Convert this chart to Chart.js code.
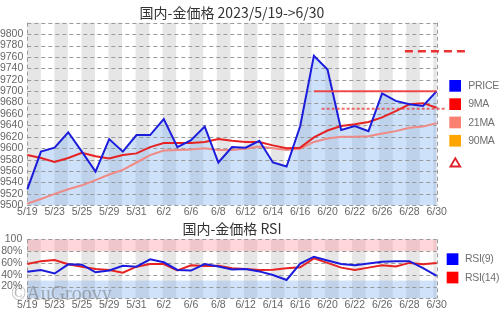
<!DOCTYPE html>
<html><head><meta charset="utf-8">
<script src="https://cdn.jsdelivr.net/npm/chart.js@4"></script>
<style>
html,body{margin:0;padding:0;background:#fff;width:500px;height:310px;overflow:hidden}
canvas{position:absolute;left:0}
#c1{top:0}
#c2{top:220px}
</style></head><body>
<canvas id="c1" width="500" height="220"></canvas>
<canvas id="c2" width="500" height="90"></canvas>
<script>
// ---------- data ----------
const dates = ['5/19','5/22','5/23','5/24','5/25','5/26','5/29','5/30','5/31','6/1','6/2','6/5','6/6','6/7','6/8','6/9','6/12','6/13','6/14','6/15','6/16','6/19','6/20','6/21','6/22','6/23','6/26','6/27','6/28','6/29','6/30'];
const tickLabels = ['5/19','5/23','5/25','5/29','5/31','6/2','6/6','6/8','6/12','6/14','6/16','6/20','6/22','6/26','6/28','6/30'];
const price = [9528,9594,9601,9628,9594,9559,9616,9594,9623,9623,9651,9602,9614,9638,9575,9602,9601,9613,9575,9568,9639,9762,9738,9632,9639,9630,9696,9683,9677,9674,9700];
const ma9   = [9588,9583,9576,9583,9592,9586,9582,9588,9591,9602,9609,9609,9609,9611,9616,9613,9611,9611,9605,9600,9601,9619,9631,9639,9642,9646,9654,9665,9677,9679,9671];
const ma21  = [9503,9511,9520,9528,9535,9544,9554,9562,9575,9588,9596,9597,9598,9600,9597,9597,9599,9603,9600,9597,9599,9611,9617,9620,9620,9621,9626,9630,9636,9638,9644];
const rsi9  = [45,48,42,57.6,57,44,47,55,53.6,66,61,48,47,58,54,49,49.7,45.6,39.5,31,59,70.5,64,58,56,59,62,63,63,51,38];
const rsi14 = [58,63,65,57.6,53.6,49.7,48,43.4,53.6,58,58,47.4,56,54.7,55,51,49.7,48,48.5,51,52.5,67.8,60,52,48,52,56,54,60,57.6,60];
const priceLegend = ['PRICE','9MA','21MA','90MA'];
const rsiLegend = ['RSI(9)','RSI(14)'];
const levelValues = [9700, 9669, 9770];
const levelFrom   = [21, 21.57, 27.67];
const levelTo     = [30, 30.71, 32.29];
const rsiZones = [[80,100],[0,30]];
const mainTitle = '国内-金価格 2023/5/19->6/30';
const rsiTitle = '国内-金価格 RSI';

// ---------- styling helpers ----------
const SMALL = "'Liberation Sans',Arial,sans-serif";
const TITLEF = "'Noto Sans CJK JP','Noto Sans',sans-serif";
const GRID = '#9a9a9a';

function drawBands(chart){
  const {ctx, chartArea:a} = chart;
  const period = a.width*2/30.25;
  ctx.save();
  ctx.fillStyle = '#e6e6e6';
  for (let x = a.left; x < a.right; x += period){
    ctx.fillRect(x, a.top, Math.min(period/2, a.right-x), a.bottom-a.top);
  }
  ctx.restore();
}
function drawGrid(chart){
  const {ctx, chartArea:a} = chart; const ys = chart.scales.y;
  ctx.save();
  ctx.strokeStyle = GRID; ctx.lineWidth = 1; ctx.setLineDash([4,3]);
  ys.ticks.forEach(t=>{
    const y = Math.round(ys.getPixelForValue(t.value)) + 0.5;
    ctx.beginPath(); ctx.moveTo(a.left, y); ctx.lineTo(a.right, y); ctx.stroke();
  });
  [a.left, a.right].forEach(x=>{
    const xx = Math.round(x) + 0.5;
    ctx.beginPath(); ctx.moveTo(xx, a.top); ctx.lineTo(xx, a.bottom); ctx.stroke();
  });
  ctx.restore();
}
function drawTitle(chart, text, y){
  const {ctx, chartArea:a} = chart;
  ctx.save();
  ctx.font = '14px ' + TITLEF;
  ctx.fillStyle = '#333';
  ctx.textAlign = 'center'; ctx.textBaseline = 'middle';
  ctx.fillText(text, (a.left+a.right)/2, y);
  ctx.restore();
}
function drawLegend(chart, names, colors, x0, y0, step, tx){
  const ctx = chart.ctx;
  ctx.save();
  ctx.font = '10.5px ' + SMALL;
  try { ctx.letterSpacing = '-0.3px'; } catch(e) {}
  ctx.textBaseline = 'middle';
  names.forEach((n,i)=>{
    const y = y0 + i*step;
    ctx.fillStyle = colors[i];
    ctx.fillRect(x0, y, 11.7, 11.7);
    ctx.fillStyle = '#707070';
    ctx.fillText(n, tx, y + 6.2);
  });
  ctx.restore();
}

const tickFont = {family: SMALL, size: 10.5};
const xTicks = {
  autoSkip:false, maxRotation:0, minRotation:0, padding:1, color:'#666', font:tickFont,
  callback:(v,i)=> tickLabels.includes(dates[i]) ? dates[i] : ''
};

// ---------- price chart ----------
const pricePlugin = {
  id:'pricePlugin',
  beforeDraw(chart){ drawBands(chart); },
  beforeDatasetsDraw(chart){ drawGrid(chart); },
  afterDatasetsDraw(chart){
    const {ctx} = chart;
    const xs = chart.scales.x, ys = chart.scales.y;
    const styles = [
      {c:'rgba(240,60,60,0.9)', w:2, d:[]},
      {c:'rgba(235,60,60,0.75)', w:2, d:[3,2]},
      {c:'rgba(235,40,40,0.95)', w:2.5, d:[8,5]}
    ];
    levelValues.forEach((v,i)=>{
      const y = ys.getPixelForValue(v);
      ctx.save();
      ctx.strokeStyle = styles[i].c; ctx.lineWidth = styles[i].w; ctx.setLineDash(styles[i].d);
      ctx.beginPath(); ctx.moveTo(xs.getPixelForValue(levelFrom[i]), y); ctx.lineTo(xs.getPixelForValue(levelTo[i]), y); ctx.stroke();
      ctx.restore();
    });
  },
  afterDraw(chart){
    drawTitle(chart, mainTitle, 12.5);
    drawLegend(chart, priceLegend, ['#0000ff','#ff0000','#fa8072','#ffa500'], 449.3, 80, 18.3, 468.3);
    const ctx = chart.ctx;
    ctx.save();
    ctx.strokeStyle = '#e0202a'; ctx.lineWidth = 1.8;
    ctx.beginPath(); ctx.moveTo(455.3,158.3); ctx.lineTo(460.2,166.5); ctx.lineTo(450.4,166.5); ctx.closePath(); ctx.stroke();
    ctx.restore();
  }
};

new Chart(document.getElementById('c1'), {
  type:'line',
  data:{
    labels:dates,
    datasets:[
      {label:priceLegend[0], data:price, borderColor:'#1c1cdc', borderWidth:2, pointRadius:0, tension:0,
       fill:'start', backgroundColor:'rgba(130,180,242,0.4)'},
      {label:priceLegend[1], data:ma9, borderColor:'#e62222', borderWidth:2, pointRadius:0, tension:0, fill:false},
      {label:priceLegend[2], data:ma21, borderColor:'#f08a84', borderWidth:2, pointRadius:0, tension:0, fill:false}
    ]
  },
  options:{
    responsive:false, animation:false, events:[],
    layout:{padding:{left:0, right:63.3, top:22.7, bottom:0}},
    plugins:{legend:{display:false}, title:{display:false}, tooltip:{enabled:false}, filler:{drawTime:'beforeDatasetsDraw'}},
    scales:{
      x:{offset:false, grid:{display:false, drawTicks:false}, border:{display:false}, ticks:xTicks,
         afterFit:(s)=>{ s.height = 14.7; }},
      y:{min:9500, max:9820, grid:{display:false, drawTicks:false}, border:{display:false},
         ticks:{stepSize:20, autoSkip:false, padding:4, color:'#666', font:tickFont,
                callback:(v)=> v===9820 ? '' : String(v)},
         afterFit:(s)=>{ s.width = 27.3; }}
    }
  },
  plugins:[pricePlugin]
});

// ---------- RSI chart ----------
const rsiPlugin = {
  id:'rsiPlugin',
  beforeDraw(chart){
    drawBands(chart);
    const {ctx, chartArea:a} = chart; const ys = chart.scales.y;
    const cols = ['rgba(255,150,160,0.38)','rgba(130,180,242,0.38)'];
    rsiZones.forEach((z,i)=>{
      const y1 = ys.getPixelForValue(z[1]), y0 = ys.getPixelForValue(z[0]);
      ctx.save(); ctx.fillStyle = cols[i]; ctx.fillRect(a.left, y1, a.width, y0-y1); ctx.restore();
    });
  },
  beforeDatasetsDraw(chart){ drawGrid(chart); },
  afterDraw(chart){
    drawTitle(chart, rsiTitle, 9);
    drawLegend(chart, rsiLegend, ['#0000ff','#ff0000'], 446.7, 33.3, 18.4, 465);
    const ctx = chart.ctx;
    ctx.save();
    ctx.font = "20px 'Liberation Serif','DejaVu Serif',serif";
    ctx.fillStyle = 'rgba(110,110,110,0.5)';
    ctx.textBaseline = 'alphabetic';
    ctx.fillText('©AuGroovy', 11, 79.5);
    ctx.restore();
  }
};

new Chart(document.getElementById('c2'), {
  type:'line',
  data:{
    labels:dates,
    datasets:[
      {label:rsiLegend[0], data:rsi9, borderColor:'#1c1cdc', borderWidth:2, pointRadius:0, tension:0, fill:false},
      {label:rsiLegend[1], data:rsi14, borderColor:'#e62222', borderWidth:2, pointRadius:0, tension:0, fill:false}
    ]
  },
  options:{
    responsive:false, animation:false, events:[],
    layout:{padding:{left:0, right:63.3, top:19.3, bottom:0}},
    plugins:{legend:{display:false}, title:{display:false}, tooltip:{enabled:false}},
    scales:{
      x:{offset:false, grid:{display:false, drawTicks:false}, border:{display:false}, ticks:xTicks,
         afterFit:(s)=>{ s.height = 11.7; }},
      y:{min:0, max:100, grid:{display:false, drawTicks:false}, border:{display:false},
         ticks:{stepSize:20, autoSkip:false, padding:5, color:'#666', font:tickFont,
                callback:(v)=> v===0 ? '' : (v===100 ? '100' : v + '%')},
         afterFit:(s)=>{ s.width = 27.3; }}
    }
  },
  plugins:[rsiPlugin]
});
</script>
</body></html>
